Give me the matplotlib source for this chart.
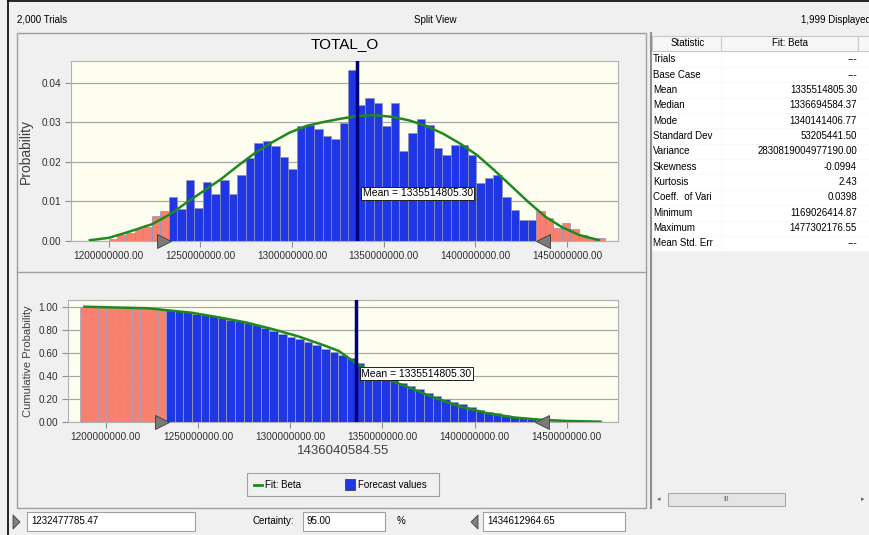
import numpy as np
import matplotlib
matplotlib.use("Agg")
import matplotlib.pyplot as plt
import matplotlib.transforms as mtransforms
from matplotlib.patches import Rectangle, Polygon

plt.rcParams['font.family'] = ['Liberation Sans', 'DejaVu Sans']

W, H = 870, 535

# histogram of forecast values (probability per bin)
bin_start = 1186.2e6
bin_width = 4.66e6
prob = [0, 0, 0,
        0.0005, 0.0015, 0.002, 0.003, 0.0036, 0.0063, 0.0076,
        0.011, 0.008, 0.0155, 0.0084, 0.0148, 0.0118, 0.0155, 0.0118, 0.0168, 0.021,
        0.0248, 0.0252, 0.024, 0.0213, 0.0183, 0.029, 0.0294, 0.0282, 0.0265, 0.0257,
        0.0298, 0.0432,
        0.0345, 0.0362, 0.0349, 0.029, 0.0349, 0.0228, 0.0273, 0.0308, 0.0293, 0.0234,
        0.0218, 0.0243, 0.0243, 0.0218, 0.0147, 0.0158, 0.0168, 0.0112, 0.0078, 0.0053,
        0.0053,
        0.0076, 0.0057, 0.0032, 0.0045, 0.003, 0.0015, 0.0008, 0.0008]

# fitted beta curve
fit_x = [1189.8, 1200.2, 1210.2, 1224.0, 1233.3, 1242.5, 1252.0, 1261.2, 1270.5, 1280.0,
         1289.4, 1298.7, 1308.0, 1317.4, 1326.5, 1335.6, 1344.7, 1354.5, 1363.8, 1373.2,
         1382.5, 1391.8, 1401.0, 1410.3, 1419.6, 1428.8, 1438.3, 1447.6, 1456.8, 1467.4]
fit_pdf = [0.0002, 0.0008, 0.0022, 0.0043, 0.0067, 0.0097, 0.0127, 0.0156, 0.019, 0.0223,
           0.025, 0.0274, 0.0291, 0.0301, 0.0309, 0.0316, 0.0318, 0.0314, 0.0305, 0.0291,
           0.0271, 0.0246, 0.0217, 0.0179, 0.0139, 0.0099, 0.0061, 0.0034, 0.0015, 0.0002]
cum_x = [1188.4, 1222.9, 1232.0, 1246.5, 1261.1, 1275.6, 1290.1, 1304.7, 1319.2, 1326.5,
         1335.6, 1350.1, 1362.9, 1377.4, 1391.9, 1406.5, 1421.0, 1435.5, 1450.1, 1468.3]
cum_fit = [1.0, 0.986, 0.971, 0.948, 0.908, 0.865, 0.807, 0.741, 0.66, 0.615,
           0.51, 0.389, 0.308, 0.216, 0.135, 0.078, 0.040, 0.02, 0.009, 0.003]

mean_val = 1335514805.30
lower = 1232477785.47
upper = 1434612964.65
xticks = [1200e6, 1250e6, 1300e6, 1350e6, 1400e6, 1450e6]

stat_names = ["Trials", "Base Case", "Mean", "Median", "Mode", "Standard Dev", "Variance",
              "Skewness", "Kurtosis", "Coeff.  of Vari", "Minimum", "Maximum", "Mean Std. Err"]
stat_values = ["---", "---", "1335514805.30", "1336694584.37", "1340141406.77", "53205441.50",
               "2830819004977190.00", "-0.0994", "2.43", "0.0398", "1169026414.87",
               "1477302176.55", "---"]

BLUE = '#1f36e4'
SALMON = '#f7806f'
GREEN = '#1e8a1e'
NAVY = '#00007a'
GRID = '#a8a8a8'
BG = '#fefef0'

fig = plt.figure(figsize=(W / 100, H / 100), dpi=100, facecolor='#f0f0f0')

# ---- window furniture drawn in pixel coordinates ----
ui = fig.add_axes([0, 0, 1, 1])
ui.set_xlim(0, W)
ui.set_ylim(H, 0)
ui.axis('off')

ui.plot([8, 8], [0, H], color='black', lw=1.2)
ui.plot([8, W], [1, 1], color='black', lw=1.2)
ui.text(17, 20, "2,000 Trials", fontsize=7, va='center')
ui.text(435, 20, "Split View", fontsize=7, va='center', ha='center')
ui.text(801, 20, "1,999 Displayed", fontsize=7, va='center')

ui.add_patch(Rectangle((17, 33), 629, 475, fill=False, ec='#a0a0a0', lw=1))
ui.plot([17, 646], [272, 272], color='#a0a0a0', lw=1)
ui.plot([651, 651], [33, 508], color='#909090', lw=1.5)

# stats table
ui.add_patch(Rectangle((652, 51), 218, 200, fc='white', ec='none'))
ui.add_patch(Rectangle((652, 36), 218, 15, fc='#f6f6f6', ec='#c8c8c8', lw=0.8))
for xs in [721, 858]:
    ui.plot([xs, xs], [36, 51], color='#c8c8c8', lw=0.8)
ui.text(688, 43.5, "Statistic", fontsize=7, ha='center', va='center')
ui.text(790, 43.5, "Fit: Beta", fontsize=7, ha='center', va='center')
for i, (nm, val) in enumerate(zip(stat_names, stat_values)):
    yy = 59.3 + i * 15.35
    ui.text(653, yy, nm, fontsize=7, va='center')
    ui.text(857, yy, val, fontsize=7, va='center', ha='right')
    ui.plot([652, 870], [yy + 7.7, yy + 7.7], color='#f6f6f6', lw=0.5)
ui.plot([721, 721], [51, 251], color='#f6f6f6', lw=0.5)

# scrollbar
ui.add_patch(Rectangle((668, 493), 117, 13, fc='#e4e4e4', ec='#a8a8a8', lw=0.8))
ui.text(726, 499.5, "III", fontsize=5, ha='center', va='center', color='#606060')
ui.text(659, 499.5, "◂", fontsize=5, ha='center', va='center', color='#606060',
        family=['DejaVu Sans'])
ui.text(863, 499.5, "▸", fontsize=5, ha='center', va='center', color='#606060',
        family=['DejaVu Sans'])

# legend
ui.add_patch(Rectangle((247, 473), 192, 23, fc='#f0f0f0', ec='#a0a0a0', lw=0.8))
ui.plot([254, 262], [485, 485], color=GREEN, lw=2)
ui.text(265, 485, "Fit: Beta", fontsize=7, va='center')
ui.add_patch(Rectangle((345, 479), 10, 11, fc=BLUE, ec='#303030', lw=0.5))
ui.text(358, 485, "Forecast values", fontsize=7, va='center')

# certainty controls
ui.add_patch(Polygon([[13, 515], [13, 529], [20, 522]], closed=True, fc='#808080', ec='#404040', lw=0.6))
ui.add_patch(Rectangle((27, 512), 168, 19, fc='white', ec='#a0a0a0', lw=0.8))
ui.text(31, 521.5, "1232477785.47", fontsize=7, va='center')
ui.text(253, 521.5, "Certainty:", fontsize=7, va='center')
ui.add_patch(Rectangle((303, 512), 82, 19, fc='white', ec='#a0a0a0', lw=0.8))
ui.text(307, 521.5, "95.00", fontsize=7, va='center')
ui.text(397, 521.5, "%", fontsize=7, va='center')
ui.add_patch(Polygon([[478, 515], [478, 529], [471, 522]], closed=True, fc='#808080', ec='#404040', lw=0.6))
ui.add_patch(Rectangle((483, 512), 142, 19, fc='white', ec='#a0a0a0', lw=0.8))
ui.text(487, 521.5, "1434612964.65", fontsize=7, va='center')

ui.text(345, 44, "TOTAL_O", fontsize=11, ha='center', va='center')


def px_axes(x0, y0, x1, y1):
    return fig.add_axes([x0 / W, 1 - y1 / H, (x1 - x0) / W, (y1 - y0) / H])


edges = bin_start + bin_width * np.arange(len(prob))
centers = edges + bin_width / 2
colors = [SALMON if (c < lower or c > upper) else BLUE for c in centers]
prob = np.array(prob)
rev_cum = np.cumsum(prob[::-1])[::-1] / prob.sum()


def style(ax, ylim, yticks):
    ax.set_facecolor(BG)
    ax.set_xlim(1179.5e6, 1477.8e6)
    ax.set_ylim(*ylim)
    ax.set_xticks(xticks)
    ax.set_xticklabels(["%.2f" % t for t in xticks], fontsize=7.2, color='#303030')
    ax.set_yticks(yticks)
    ax.set_yticklabels(["%.2f" % t for t in yticks], fontsize=7.2, color='#303030')
    ax.tick_params(length=4, color='#909090', pad=3)
    ax.grid(axis='y', color=GRID, lw=0.9)
    ax.set_axisbelow(True)
    for s in ax.spines.values():
        s.set_color('#b0b0b0')


def certainty_marks(ax):
    left = mtransforms.offset_copy(ax.transData, fig=fig, x=-4, y=0, units='dots')
    right = mtransforms.offset_copy(ax.transData, fig=fig, x=4, y=0, units='dots')
    ax.plot([lower], [0], marker='>', ms=10, color='#7a7a7a', mec='#3a3a3a', mew=0.6,
            transform=left, clip_on=False, zorder=6)
    ax.plot([upper], [0], marker='<', ms=10, color='#7a7a7a', mec='#3a3a3a', mew=0.6,
            transform=right, clip_on=False, zorder=6)


# ---- probability histogram ----
ax1 = px_axes(71, 61, 618, 241)
style(ax1, (0, 0.0455), [0, 0.01, 0.02, 0.03, 0.04])
ax1.bar(edges, prob, width=bin_width, align='edge', color=colors, edgecolor='#9090b8', lw=0.5, zorder=2)
ax1.plot(np.array(fit_x) * 1e6, fit_pdf, color=GREEN, lw=1.8, zorder=3)
ax1.axvline(mean_val, color=NAVY, lw=2.5, zorder=4)
ax1.annotate("Mean = 1335514805.30", xy=(mean_val, 0.0121), xytext=(4, 0), textcoords='offset points',
             fontsize=7.5, va='center', ha='left', zorder=5,
             bbox=dict(boxstyle='square,pad=0.15', fc='white', ec='#202020', lw=0.7))
ax1.set_ylabel("Probability", fontsize=10, color='#404040', labelpad=6)
certainty_marks(ax1)

# ---- reverse cumulative ----
ax2 = px_axes(68, 300, 618, 422)
style(ax2, (0, 1.058), [0, 0.2, 0.4, 0.6, 0.8, 1.0])
ax2.bar(edges, rev_cum, width=bin_width, align='edge', color=colors, edgecolor='#a0a0c0', lw=0.5, zorder=2)
ax2.plot(np.array(cum_x) * 1e6, cum_fit, color=GREEN, lw=1.8, zorder=3)
ax2.axvline(mean_val, color=NAVY, lw=2.5, zorder=4)
ax2.annotate("Mean = 1335514805.30", xy=(mean_val, 0.418), xytext=(4, 0), textcoords='offset points',
             fontsize=7.5, va='center', ha='left', zorder=5,
             bbox=dict(boxstyle='square,pad=0.15', fc='white', ec='#202020', lw=0.7))
ax2.set_ylabel("Cumulative Probability", fontsize=8, color='#404040', labelpad=4)
ax2.set_xlabel("1436040584.55", fontsize=9.5, color='#404040', labelpad=2)
certainty_marks(ax2)

fig.savefig("out.png", dpi=100, facecolor=fig.get_facecolor())
